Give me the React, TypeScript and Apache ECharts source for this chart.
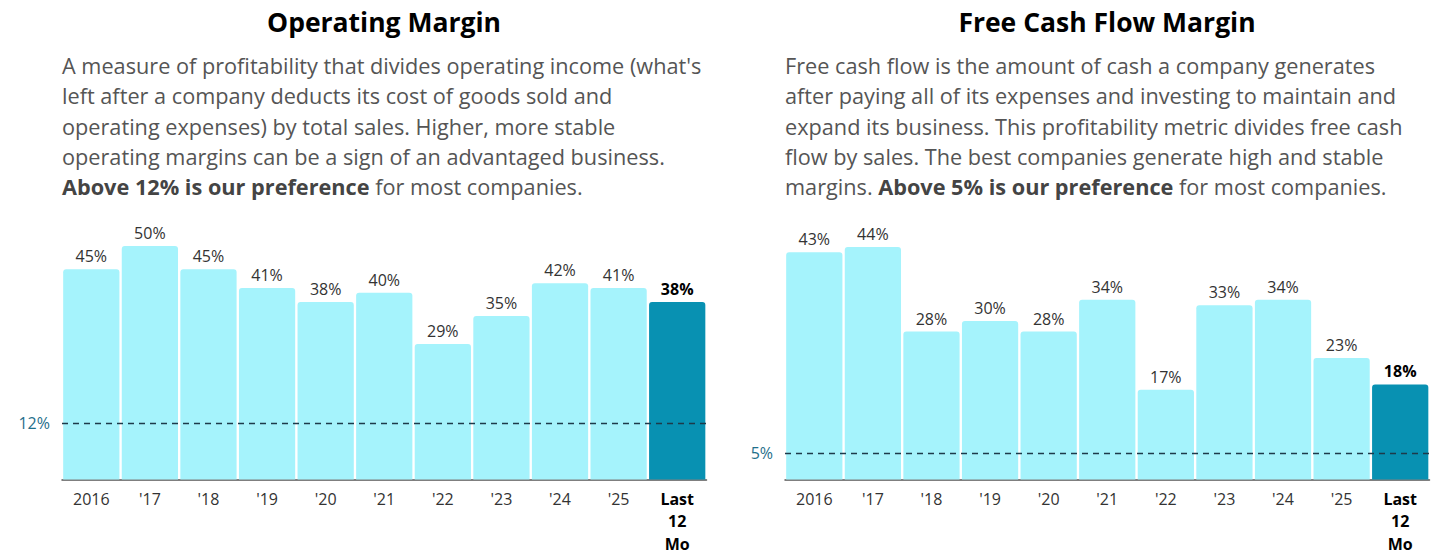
import React, { useEffect, useRef } from "react";
import * as echarts from "echarts";

const categories = ["2016", "'17", "'18", "'19", "'20", "'21", "'22", "'23", "'24", "'25", "Last 12 Mo"];
const operatingMargin = [45, 50, 45, 41, 38, 40, 29, 35, 42, 41, 38];
const fcfMargin = [43, 44, 28, 30, 28, 34, 17, 33, 34, 23, 18];
const operatingThreshold = 12;
const fcfThreshold = 5;

const leftTitle = "Operating Margin";
const rightTitle = "Free Cash Flow Margin";
const leftDesc = [
  "A measure of profitability that divides operating income (what's",
  "left after a company deducts its cost of goods sold and",
  "operating expenses) by total sales. Higher, more stable",
  "operating margins can be a sign of an advantaged business.",
  "{b|Above 12% is our preference} for most companies.",
];
const rightDesc = [
  "Free cash flow is the amount of cash a company generates",
  "after paying all of its expenses and investing to maintain and",
  "expand its business. This profitability metric divides free cash",
  "flow by sales. The best companies generate high and stable",
  "margins. {b|Above 5% is our preference} for most companies.",
];

const FONT = "'Open Sans', 'Noto Sans', sans-serif";
const LIGHT = "#a5f3fc";
const DARK = "#0891b2";

function barData(values: number[]) {
  const last = values.length - 1;
  return values.map((v, i) => ({
    value: v,
    itemStyle: { color: i === last ? DARK : LIGHT },
    label:
      i === last
        ? { fontWeight: "bold", color: "#000" }
        : { fontWeight: "normal", color: "#333" },
  }));
}

function makeSeries(values: number[], threshold: number, idx: number) {
  return {
    type: "bar",
    xAxisIndex: idx,
    yAxisIndex: idx,
    data: barData(values),
    barCategoryGap: "4%",
    itemStyle: { borderRadius: [3, 3, 0, 0] },
    label: {
      show: true,
      position: "top",
      distance: 5,
      fontSize: 16,
      fontFamily: FONT,
      formatter: "{c}%",
    },
    markLine: {
      silent: true,
      symbol: "none",
      lineStyle: { type: [6, 5], color: "#1e3a4a", width: 1.4 },
      label: {
        position: "start",
        formatter: threshold + "%",
        color: "#1f6f8b",
        fontSize: 16,
        fontFamily: FONT,
        distance: 12,
      },
      data: [{ yAxis: threshold }],
    },
  };
}

function makeX(idx: number) {
  return {
    type: "category",
    gridIndex: idx,
    data: categories,
    axisLine: { lineStyle: { color: "#555", width: 1.5 } },
    axisTick: { alignWithLabel: true, length: 5, lineStyle: { color: "#555", width: 1.5 } },
    axisLabel: {
      margin: 8,
      fontSize: 16,
      fontFamily: FONT,
      color: "#333",
      lineHeight: 22.5,
      interval: 0,
      formatter: (v: string) =>
        v === "Last 12 Mo" ? "{b|Last}\n{b|12}\n{b|Mo}" : v,
      rich: {
        b: { fontWeight: "bold", fontSize: 16, color: "#000", lineHeight: 22.5, fontFamily: FONT },
      },
    },
  };
}

function makeY(idx: number) {
  return {
    type: "value",
    gridIndex: idx,
    min: 0,
    max: "dataMax",
    show: false,
    splitLine: { show: false },
  };
}

function descTitle(lines: string[], left: number) {
  return {
    text: lines.join("\n"),
    left,
    top: 50,
    padding: 0,
    textStyle: {
      fontFamily: FONT,
      fontSize: 21.7,
      fontWeight: "normal",
      color: "#555",
      lineHeight: 30.4,
      rich: {
        b: { fontFamily: FONT, fontSize: 21.7, fontWeight: "bold", color: "#444", lineHeight: 30.4 },
      },
    },
  };
}

export default function App() {
  const ref = useRef<HTMLDivElement>(null);
  useEffect(() => {
    if (!ref.current) return;
    const chart = echarts.init(ref.current, undefined, { renderer: "svg" });
    chart.setOption({
      animation: false,
      backgroundColor: "#fff",
      title: [
        {
          text: leftTitle,
          left: 384,
          top: 8,
          padding: 0,
          textAlign: "center",
          textStyle: { fontFamily: FONT, fontSize: 26.5, fontWeight: "bold", color: "#000" },
        },
        {
          text: rightTitle,
          left: 1107,
          top: 8,
          padding: 0,
          textAlign: "center",
          textStyle: { fontFamily: FONT, fontSize: 26.5, fontWeight: "bold", color: "#000" },
        },
        descTitle(leftDesc, 62),
        descTitle(rightDesc, 785),
      ],
      grid: [
        { left: 62, width: 644.5, top: 246, bottom: 80.5 },
        { left: 785, width: 644.5, top: 247, bottom: 80.5 },
      ],
      xAxis: [makeX(0), makeX(1)],
      yAxis: [makeY(0), makeY(1)],
      series: [
        makeSeries(operatingMargin, operatingThreshold, 0),
        makeSeries(fcfMargin, fcfThreshold, 1),
      ],
    });
    return () => chart.dispose();
  }, []);
  return (
    <div
      ref={ref}
      style={{ position: "fixed", left: 0, top: 0, width: 1456, height: 560 }}
    />
  );
}
